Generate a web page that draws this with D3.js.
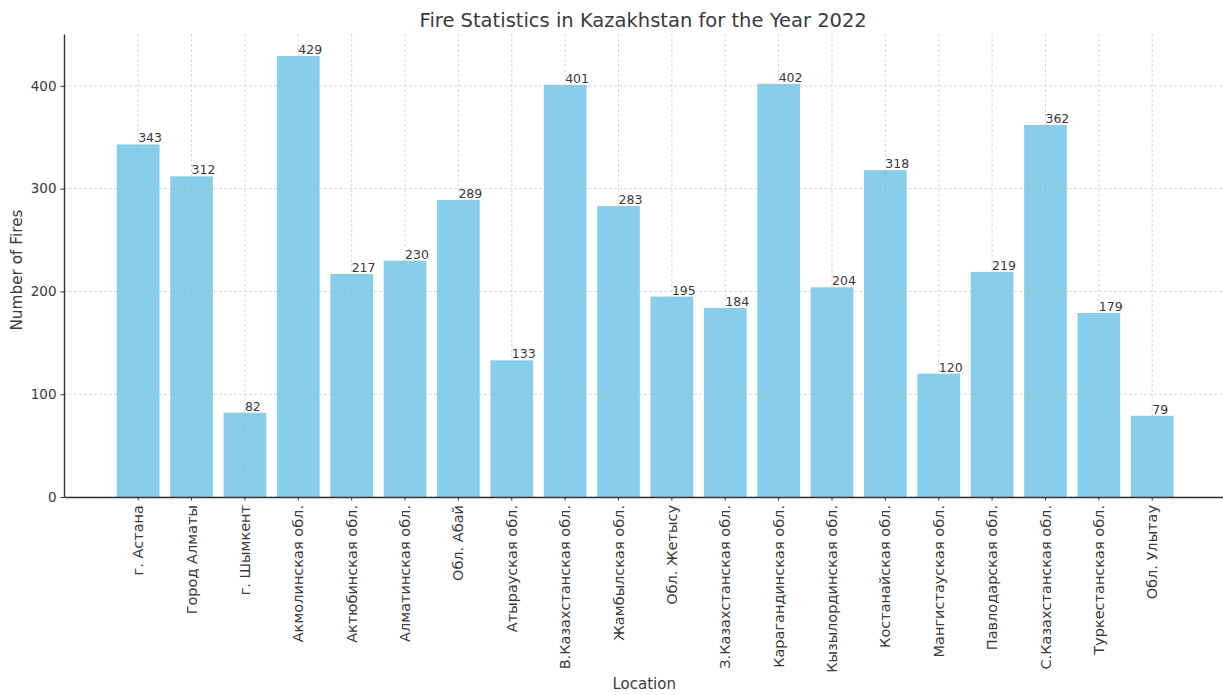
<!DOCTYPE html>
<html><head><meta charset="utf-8">
<script src="https://cdn.jsdelivr.net/npm/d3@7"></script>
<style>body{margin:0;background:#fff}svg{display:block}text{font-family:"DejaVu Sans",sans-serif}</style>
</head><body>
<svg id="c" width="1223" height="695"></svg>
<script>
const locations = ["г. Астана","Город Алматы","г. Шымкент","Акмолинская обл.","Актюбинская обл.","Алматинская обл.","Обл. Абай","Атырауская обл.","В.Казахстанская обл.","Жамбылская обл.","Обл. Жетысу","З.Казахстанская обл.","Карагандинская обл.","Кызылординская обл.","Костанайская обл.","Мангистауская обл.","Павлодарская обл.","С.Казахстанская обл.","Туркестанская обл.","Обл. Улытау"];
const fires = [343,312,82,429,217,230,289,133,401,283,195,184,402,204,318,120,219,362,179,79];
const yTicks = [0,100,200,300,400];
const title = "Fire Statistics in Kazakhstan for the Year 2022";
const xTitle = "Location";
const yTitle = "Number of Fires";

const svg = d3.select("#c");
const L = 64, R = 1226.4, T = 34, B = 497;
const x = d3.scaleBand().domain(locations).range([L, R]).paddingInner(0.2).paddingOuter(0.99);
const y = d3.scaleLinear().domain([0, d3.max(fires) * 1.05]).range([B, T]);
const txt = "#3a3a3a";

// bars
svg.append("g").selectAll("rect").data(fires).join("rect")
  .attr("x", (d, i) => x(locations[i]))
  .attr("width", x.bandwidth())
  .attr("y", d => y(d))
  .attr("height", d => B - y(d))
  .attr("fill", "#87CEEB");

// grid (drawn above bars, faint)
const grid = svg.append("g").attr("stroke", "#b0b0b0").attr("stroke-width", 0.8)
  .attr("stroke-dasharray", "3,2").attr("opacity", 0.6);
grid.selectAll(".gy").data(yTicks).join("line")
  .attr("x1", L).attr("x2", R).attr("y1", d => y(d)).attr("y2", d => y(d));
grid.selectAll(".gx").data(locations).join("line")
  .attr("x1", d => x(d) + x.bandwidth() / 2).attr("x2", d => x(d) + x.bandwidth() / 2)
  .attr("y1", T).attr("y2", B);

// value labels
svg.append("g").selectAll("text").data(fires).join("text")
  .attr("x", (d, i) => x(locations[i]) + x.bandwidth() / 2)
  .attr("y", d => y(d) - 2)
  .attr("font-size", 12.5).attr("fill", txt)
  .text(d => d);

// axes
const yAxis = svg.append("g").attr("transform", `translate(${L},0)`)
  .call(d3.axisLeft(y).tickValues(yTicks).tickSize(3.5).tickPadding(4).tickSizeOuter(0));
const xAxis = svg.append("g").attr("transform", `translate(0,${B})`)
  .call(d3.axisBottom(x).tickSize(3.5).tickSizeOuter(0));
[yAxis, xAxis].forEach(a => {
  a.select(".domain").attr("stroke", "#333").attr("stroke-width", 1.4);
  a.selectAll(".tick line").attr("stroke", "#333");
  a.selectAll(".tick text").attr("fill", txt).attr("font-family", '"DejaVu Sans",sans-serif');
});
yAxis.selectAll(".tick text").attr("font-size", 13.5);
xAxis.selectAll(".tick text").attr("font-size", 14.5)
  .attr("transform", "rotate(-90)").attr("text-anchor", "end")
  .attr("x", -8).attr("y", 0).attr("dy", "0.35em");

// titles
svg.append("text").attr("x", (L + R) / 2 - 2).attr("y", 27).attr("text-anchor", "middle")
  .attr("font-size", 19.5).attr("fill", txt).text(title);
svg.append("text").attr("x", (L + R) / 2 - 1).attr("y", 689).attr("text-anchor", "middle")
  .attr("font-size", 15).attr("fill", txt).text(xTitle);
svg.append("text").attr("transform", "translate(22,270) rotate(-90)").attr("text-anchor", "middle")
  .attr("font-size", 15.3).attr("fill", txt).text(yTitle);
</script>
</body></html>
